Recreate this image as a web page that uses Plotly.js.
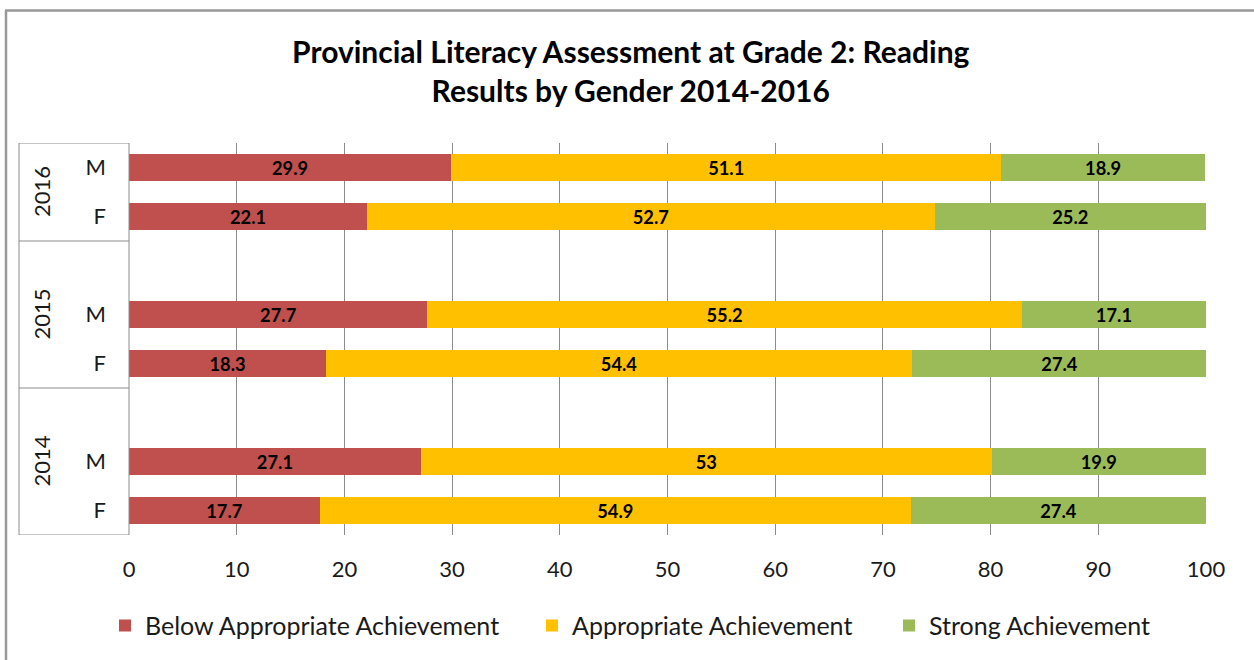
<!DOCTYPE html>
<html><head><meta charset="utf-8">
<script src="https://cdn.plot.ly/plotly-3.0.1.min.js"></script>
<style>html,body{margin:0;padding:0;background:#fff}#chart{width:1254px;height:660px}</style>
</head><body><div id="chart"></div>
<script>
// Rows from top to bottom (gap rows have no data)
const rowKeys   = ['2016 M','2016 F','gap2015','2015 M','2015 F','gap2014','2014 M','2014 F'];
const rowLabels = ['M','F','','M','F','','M','F'];
const years     = ['2016','2015','2014'];
const yearRowCenter = [0.5, 3, 6];
const below       = [29.9, 22.1, null, 27.7, 18.3, null, 27.1, 17.7];
const appropriate = [51.1, 52.7, null, 55.2, 54.4, null, 53, 54.9];
const strong      = [18.9, 25.2, null, 17.1, 27.4, null, 19.9, 27.4];
const seriesNames = ['Below Appropriate Achievement','Appropriate Achievement','Strong Achievement'];
const colors = ['#C0504D','#FFC000','#9BBB59'];
const FONT = 'Lato, "Open Sans", sans-serif';
const legendIds = ['legend','legend2','legend3'];
const legendX = [105, 532, 889];

const vals = [below, appropriate, strong];
const traces = vals.map((v,i)=>({
  type:'bar', orientation:'h', name:seriesNames[i], legend:legendIds[i],
  x:v, y:rowKeys,
  marker:{color:colors[i]},
  texttemplate:'%{x}', textposition:'inside', insidetextanchor:'middle', textangle:0,
  textfont:{family:FONT, size:20, color:'#000', weight:'bold'},
  hoverinfo:'x+name'
}));

const gray = '#8c8c8c';
const boxL = (19-129)/1077;
const shapes = [];
[boxL, 0].forEach(x=>shapes.push({type:'line', xref:'paper', yref:'y', x0:x, x1:x, y0:-0.5, y1:7.5, line:{color:gray, width:1}}));
[-0.5, 1.5, 4.5, 7.5].forEach(y=>shapes.push({type:'line', xref:'paper', yref:'y', x0:boxL, x1:0, y0:y, y1:y, line:{color:gray, width:1}}));
shapes.push({type:'line', xref:'paper', yref:'paper', x0:(6-129)/1077, x1:(6-129)/1077, y0:-125/392, y1:(660-10.5-125)/392, line:{color:'#999', width:2.5}});
shapes.push({type:'line', xref:'paper', yref:'paper', x0:(5-129)/1077, x1:(1254-129)/1077, y0:(660-10.5-125)/392, y1:(660-10.5-125)/392, line:{color:'#999', width:2.5}});

const annotations = years.map((yr,i)=>({
  text:yr, xref:'paper', yref:'y', x:0, xshift:-88, y:yearRowCenter[i],
  textangle:-90, showarrow:false, xanchor:'center', yanchor:'middle',
  font:{family:FONT, size:22, color:'#1a1a1a'}
}));

const layout = {
  width:1254, height:660,
  margin:{l:129, r:48, t:143, b:125},
  paper_bgcolor:'#fff', plot_bgcolor:'#fff',
  barmode:'stack', bargap:0.43,
  font:{family:FONT, color:'#1a1a1a'},
  title:{text:'Provincial Literacy Assessment at Grade 2: Reading<br>Results by Gender 2014-2016',
    font:{family:FONT, size:30, color:'#000', weight:'bold'},
    xref:'container', x:0.503, xanchor:'center', yref:'container', y:0.905, yanchor:'middle'},
  xaxis:{range:[0,100], dtick:10, tick0:0, showgrid:true, gridcolor:gray, gridwidth:1,
    zeroline:false, showline:false, ticks:'', ticklabelstandoff:19,
    tickfont:{family:FONT, size:22, color:'#1a1a1a'}, fixedrange:true},
  yaxis:{type:'category', categoryorder:'array', categoryarray:rowKeys,
    tickvals:rowKeys, ticktext:rowLabels, range:[7.5,-0.5],
    showgrid:false, zeroline:false, showline:false, ticks:'', ticklabelstandoff:22,
    tickfont:{family:FONT, size:22, color:'#1a1a1a'}, fixedrange:true},
  shapes:shapes, annotations:annotations, showlegend:true
};
legendIds.forEach((id,i)=>{
  layout[id] = {orientation:'h', x:legendX[i]/1254, xref:'container', xanchor:'left', y:0.052, yref:'container', yanchor:'middle',
    font:{family:FONT, size:25, color:'#1a1a1a'}, itemwidth:30, bgcolor:'rgba(0,0,0,0)'};
});
Plotly.newPlot('chart', traces, layout, {displayModeBar:false, staticPlot:true});
</script></body></html>
